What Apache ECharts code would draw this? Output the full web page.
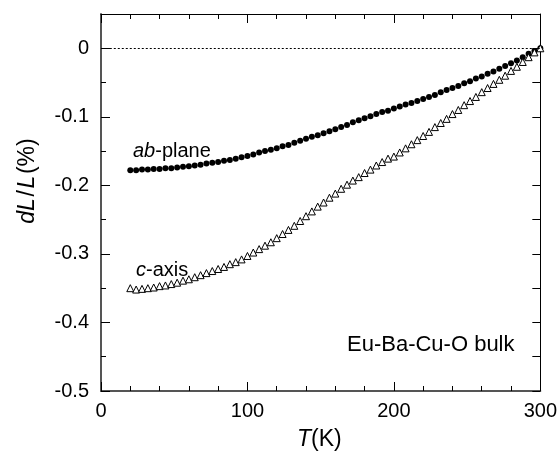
<!DOCTYPE html>
<html>
<head>
<meta charset="utf-8">
<script src="https://cdn.jsdelivr.net/npm/echarts@6/dist/echarts.min.js"></script>
<style>
  html, body { margin: 0; padding: 0; background: #fff; }
  #main { width: 560px; height: 453px; }
</style>
</head>
<body>
<div id="main"></div>
<script>
// temperature points (K), every 4 K from 20 to 300
var temps = [20, 24, 28, 32, 36, 40, 44, 48, 52, 56, 60, 64, 68, 72, 76, 80, 84, 88, 92, 96,
    100, 104, 108, 112, 116, 120, 124, 128, 132, 136, 140, 144, 148, 152, 156, 160, 164, 168, 172, 176,
    180, 184, 188, 192, 196, 200, 204, 208, 212, 216, 220, 224, 228, 232, 236, 240, 244, 248, 252, 256,
    260, 264, 268, 272, 276, 280, 284, 288, 292, 296, 300];

// dL/L (%) ab-plane
var abPlane = [-0.178, -0.178, -0.177, -0.177, -0.176, -0.176, -0.175, -0.175, -0.174, -0.173,
    -0.172, -0.171, -0.170, -0.168, -0.167, -0.166, -0.164, -0.163, -0.161, -0.159,
    -0.157, -0.155, -0.152, -0.150, -0.148, -0.146, -0.143, -0.141, -0.138, -0.135,
    -0.132, -0.129, -0.127, -0.124, -0.121, -0.118, -0.115, -0.112, -0.108, -0.105,
    -0.102, -0.099, -0.096, -0.093, -0.091, -0.088, -0.085, -0.082, -0.080, -0.077,
    -0.074, -0.071, -0.068, -0.064, -0.061, -0.058, -0.055, -0.051, -0.048, -0.044,
    -0.041, -0.037, -0.034, -0.030, -0.026, -0.022, -0.018, -0.013, -0.008, -0.004, 0];

// dL/L (%) c-axis
var cAxis = [-0.350, -0.352, -0.351, -0.350, -0.349, -0.347, -0.346, -0.344, -0.342, -0.339,
    -0.337, -0.334, -0.331, -0.328, -0.325, -0.322, -0.319, -0.315, -0.312, -0.308,
    -0.303, -0.298, -0.293, -0.288, -0.283, -0.277, -0.271, -0.265, -0.259, -0.252,
    -0.245, -0.238, -0.231, -0.225, -0.218, -0.212, -0.205, -0.199, -0.193, -0.188,
    -0.182, -0.177, -0.171, -0.166, -0.161, -0.158, -0.152, -0.146, -0.140, -0.134,
    -0.128, -0.122, -0.115, -0.109, -0.103, -0.096, -0.090, -0.083, -0.077, -0.071,
    -0.064, -0.058, -0.052, -0.046, -0.040, -0.033, -0.027, -0.020, -0.013, -0.006, 0];

function pairs(xs, ys) {
    var out = [];
    for (var i = 0; i < xs.length; i++) out.push([xs[i], ys[i]]);
    return out;
}

var font = 'Liberation Sans, Arial, sans-serif';
var ink = '#000';

function richStyles(size, pad) {
    return {
        i: { fontFamily: font, fontSize: size, fontStyle: 'italic', fill: ink, padding: [0, pad, 0, pad] },
        n: { fontFamily: font, fontSize: size, fill: ink, padding: [0, pad, 0, pad] }
    };
}

var myChart = echarts.init(document.getElementById('main'));
var option = {
    animation: false,
    grid: { left: 101, right: 18, top: 14, bottom: 62 },
    xAxis: [
        {
            type: 'value', min: 0, max: 300, interval: 100,
            axisLine: { onZero: false, lineStyle: { color: '#555', width: 2 } },
            axisTick: { inside: true, length: 9, lineStyle: { color: ink } },
            minorTick: { show: true, splitNumber: 5, length: 5, lineStyle: { color: ink } },
            splitLine: { show: false },
            axisLabel: { fontFamily: font, fontSize: 20, color: ink, margin: 10 }
        },
        {
            type: 'value', position: 'top', min: 0, max: 300, interval: 100,
            axisLine: { onZero: false, lineStyle: { color: ink, width: 1 } },
            axisTick: { inside: true, length: 9, lineStyle: { color: ink } },
            minorTick: { show: true, splitNumber: 5, length: 5, lineStyle: { color: ink } },
            splitLine: { show: false },
            axisLabel: { show: false }
        }
    ],
    yAxis: [
        {
            type: 'value', min: -0.5, max: 0.05, interval: 0.1,
            axisLine: { onZero: false, lineStyle: { color: '#555', width: 2 } },
            axisTick: { inside: true, length: 9, lineStyle: { color: ink } },
            minorTick: { show: true, splitNumber: 2, length: 5, lineStyle: { color: ink } },
            splitLine: { show: false },
            axisLabel: {
                fontFamily: font, fontSize: 20, color: ink, margin: 12, showMaxLabel: false,
                formatter: function (v) { return Math.abs(v) < 1e-9 ? '0' : (+v.toFixed(1)).toString(); }
            }
        },
        {
            type: 'value', position: 'right', min: -0.5, max: 0.05, interval: 0.05,
            axisLine: { onZero: false, lineStyle: { color: ink, width: 1 } },
            axisTick: { inside: true, length: 8, lineStyle: { color: ink } },
            splitLine: { show: false },
            axisLabel: { show: false }
        }
    ],
    series: [
        {
            name: 'ab-plane',
            type: 'line',
            data: pairs(temps, abPlane),
            lineStyle: { width: 0 },
            symbol: 'circle',
            symbolSize: 6,
            itemStyle: { color: ink, borderWidth: 0 },
            markLine: {
                silent: true,
                symbol: 'none',
                label: { show: false },
                lineStyle: { color: ink, type: [2, 2], width: 1 },
                data: [[{ coord: [6, 0] }, { coord: [300, 0] }]]
            },
            z: 3
        },
        {
            name: 'c-axis',
            type: 'line',
            data: pairs(temps, cAxis),
            lineStyle: { width: 0 },
            symbol: 'triangle',
            symbolSize: 7,
            itemStyle: { color: '#fff', borderColor: ink, borderWidth: 1 },
            z: 4
        }
    ],
    graphic: [
        {
            type: 'text', left: 133, top: 141,
            style: { text: '{i|ab}{n|-plane}', fill: ink, rich: richStyles(20, 0) }
        },
        {
            type: 'text', left: 136, top: 260,
            style: { text: '{i|c}{n|-axis}', fill: ink, rich: richStyles(20, 0) }
        },
        {
            type: 'text', left: 347, top: 334,
            style: { text: 'Eu-Ba-Cu-O bulk', fontFamily: font, fontSize: 22, fill: ink }
        },
        {
            type: 'text', left: 297, top: 428,
            style: { text: '{i|T}{n|(K)}', fill: ink, rich: richStyles(23, 0) }
        },
        {
            type: 'text', x: 28, y: 181, rotation: Math.PI / 2,
            style: {
                text: '{i|dL}{n|/}{i|L}{n|(%)}', fill: ink, align: 'center', verticalAlign: 'middle',
                rich: richStyles(23, 0.8)
            }
        }
    ]
};
myChart.setOption(option);
</script>
</body>
</html>
